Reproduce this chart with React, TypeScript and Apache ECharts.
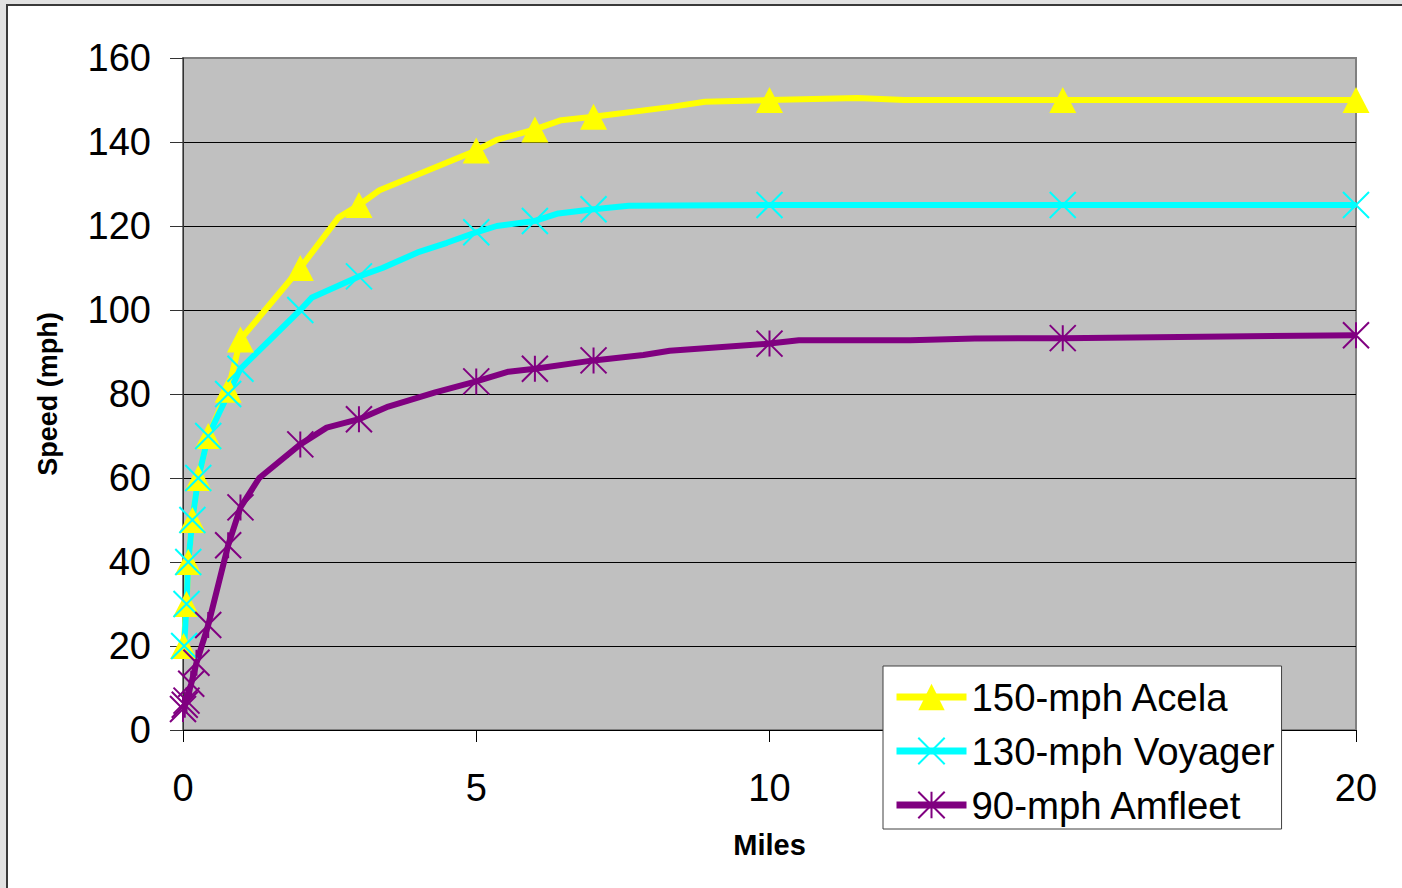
import React, { useEffect, useRef } from "react";
import * as echarts from "echarts";

const FONT = "'Liberation Sans', Arial, sans-serif";

// X axis ticks (miles) and Y axis ticks (mph)
const xTicks = [0, 5, 10, 15, 20];
const yTicks = [0, 20, 40, 60, 80, 100, 120, 140, 160];
const hiddenXLabels = [15]; // covered by the legend in the reference

const seriesNames = ["150-mph Acela", "130-mph Voyager", "90-mph Amfleet"];
const seriesColors = ["#FFFF00", "#00FFFF", "#800080"];

// 150-mph Acela
const acelaMiles = [0.01, 0.06, 0.09, 0.16, 0.26, 0.43, 0.77, 0.98, 2, 2.65, 3, 3.35, 5, 5.35, 6, 6.45, 7, 8.3, 8.9, 10, 11.5, 12.3, 15, 20];
const acelaSpeed = [20, 30, 40, 50, 60, 70, 81, 93, 110, 122, 125, 128.5, 138, 140.5, 143, 145.2, 146, 148.3, 149.6, 150, 150.5, 150, 150, 150];
const acelaMarked = [1, 1, 1, 1, 1, 1, 1, 1, 1, 0, 1, 0, 1, 0, 1, 0, 1, 0, 0, 1, 0, 0, 1, 1];

// 130-mph Voyager
const voyagerMiles = [0.02, 0.06, 0.09, 0.16, 0.26, 0.43, 0.77, 0.98, 2, 2.2, 3, 3.4, 4, 4.5, 5, 5.35, 6, 6.4, 7, 7.6, 10, 15, 20];
const voyagerSpeed = [20, 30, 40, 50, 60, 70, 80, 86, 100, 103, 108, 110, 113.7, 116, 118.5, 120, 121.2, 123, 124, 124.8, 125, 125, 125];
const voyagerMarked = [1, 1, 1, 1, 1, 1, 1, 1, 1, 0, 1, 0, 0, 0, 1, 0, 1, 0, 1, 0, 1, 1, 1];

// 90-mph Amfleet
const amfleetMiles = [0, 0.03, 0.06, 0.14, 0.23, 0.43, 0.77, 0.98, 1.3, 2, 2.45, 3, 3.5, 4.3, 5, 5.55, 6, 7, 7.85, 8.3, 10, 10.5, 12.4, 13.5, 15, 20];
const amfleetSpeed = [5, 6, 7, 11, 16, 25, 44, 53, 60, 68, 72, 74, 77, 80.4, 83, 85.3, 86, 88, 89.3, 90.3, 92, 92.8, 92.8, 93.2, 93.3, 94];
const amfleetMarked = [1, 1, 1, 1, 1, 1, 1, 1, 0, 1, 0, 1, 0, 0, 1, 0, 1, 1, 0, 0, 1, 0, 0, 0, 1, 1];

const X_SYMBOL = "path://M0,0L10,10M10,0L0,10";
const STAR_SYMBOL = "path://M0,0L10,10M10,0L0,10M5,0L5,10";

function buildData(miles: number[], speed: number[], marked: number[]) {
  return miles.map((m, i) =>
    marked[i] ? { value: [m, speed[i]] } : { value: [m, speed[i]], symbol: "none" }
  );
}

export default function App() {
  const ref = useRef<HTMLDivElement>(null);

  useEffect(() => {
    if (!ref.current) return;
    const chart = echarts.init(ref.current, null, { renderer: "svg" });

    const lineSeries = (idx: number, data: any[], symbol: string, size: any, itemStyle: any) => ({
      type: "line",
      name: seriesNames[idx],
      data,
      symbol,
      symbolSize: size,
      showAllSymbol: true,
      clip: false,
      lineStyle: { color: seriesColors[idx], width: 6 },
      itemStyle,
      emphasis: { disabled: true },
    });

    chart.setOption({
      animation: false,
      backgroundColor: "#ffffff",
      textStyle: { fontFamily: FONT },
      graphic: [
        { type: "rect", shape: { x: 0, y: 0, width: 1402, height: 5 }, style: { fill: "#e2e2e2" }, silent: true },
        { type: "rect", shape: { x: 0, y: 0, width: 7, height: 888 }, style: { fill: "#e2e2e2" }, silent: true },
        { type: "line", shape: { x1: 6, y1: 5, x2: 1402, y2: 5 }, style: { stroke: "#3a3a3a", lineWidth: 2 }, silent: true },
        { type: "line", shape: { x1: 7, y1: 4, x2: 7, y2: 888 }, style: { stroke: "#3a3a3a", lineWidth: 2 }, silent: true },
      ],
      grid: {
        left: 183,
        right: 46,
        top: 58,
        bottom: 158,
        show: true,
        backgroundColor: "#C0C0C0",
        borderColor: "#808080",
        borderWidth: 2,
      },
      legend: {
        orient: "vertical",
        left: 883,
        top: 666,
        padding: [11, 7, 4, 10],
        backgroundColor: "#ffffff",
        borderColor: "#404040",
        borderWidth: 1,
        itemWidth: 70,
        itemHeight: 33,
        itemGap: 14,
        selectedMode: false,
        textStyle: { fontSize: 38.4, color: "#000", lineHeight: 40, fontFamily: FONT },
        lineStyle: { width: 7 },
        data: seriesNames,
      },
      xAxis: {
        type: "value",
        min: xTicks[0],
        max: xTicks[xTicks.length - 1],
        interval: xTicks[1] - xTicks[0],
        name: "Miles",
        nameLocation: "middle",
        nameGap: 100,
        nameTextStyle: { fontSize: 29, fontWeight: "bold", color: "#000", fontFamily: FONT },
        axisLine: { show: true, onZero: false, lineStyle: { color: "#000", width: 1 } },
        axisTick: { show: true, inside: false, length: 12, lineStyle: { color: "#000" } },
        axisLabel: {
          fontSize: 38,
          color: "#000",
          margin: 39,
          fontFamily: FONT,
          formatter: (v: number) => (hiddenXLabels.includes(v) ? "" : String(v)),
        },
        splitLine: { show: false },
      },
      yAxis: {
        type: "value",
        min: yTicks[0],
        max: yTicks[yTicks.length - 1],
        interval: yTicks[1] - yTicks[0],
        name: "Speed (mph)",
        nameLocation: "middle",
        nameGap: 122,
        nameTextStyle: { fontSize: 27, fontWeight: "bold", color: "#000", fontFamily: FONT },
        axisLine: { show: true, lineStyle: { color: "#333", width: 1 } },
        axisTick: { show: true, inside: false, length: 13, lineStyle: { color: "#333" } },
        axisLabel: { fontSize: 38, color: "#000", margin: 32, fontFamily: FONT },
        splitLine: { show: true, showMaxLine: false, lineStyle: { color: "#000", width: 1 } },
      },
      series: [
        lineSeries(0, buildData(acelaMiles, acelaSpeed, acelaMarked), "triangle", [27, 26], {
          color: seriesColors[0],
          borderWidth: 0,
        }),
        lineSeries(1, buildData(voyagerMiles, voyagerSpeed, voyagerMarked), X_SYMBOL, 26, {
          color: seriesColors[1],
          borderColor: seriesColors[1],
          borderWidth: 2,
        }),
        lineSeries(2, buildData(amfleetMiles, amfleetSpeed, amfleetMarked), STAR_SYMBOL, 26, {
          color: seriesColors[2],
          borderColor: seriesColors[2],
          borderWidth: 2,
        }),
      ],
    });

    return () => chart.dispose();
  }, []);

  return (
    <div
      ref={ref}
      style={{ position: "fixed", left: 0, top: 0, width: 1402, height: 888 }}
    />
  );
}
